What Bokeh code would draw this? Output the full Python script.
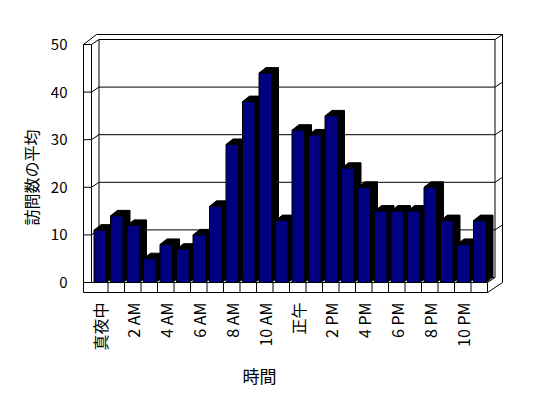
from bokeh.plotting import figure
from bokeh.models import Range1d
from bokeh.core.properties import value
from bokeh.embed import file_html
from bokeh.resources import INLINE
import math

# ---------------- data ----------------
hours = list(range(24))
visits = [11, 14, 12, 5, 8, 7, 10, 16, 29, 38, 44, 13,
          32, 31, 35, 24, 20, 15, 15, 15, 20, 13, 8, 13]
y_ticks = [0, 10, 20, 30, 40, 50]
y_tick_labels = ["0", "10", "20", "30", "40", "50"]
x_tick_pos = [0, 2, 4, 6, 8, 10, 12, 14, 16, 18, 20, 22]
x_tick_labels = ["真夜中", "2 AM", "4 AM", "6 AM", "8 AM", "10 AM",
                 "正午", "2 PM", "4 PM", "6 PM", "8 PM", "10 PM"]
y_title = "訪問数の平均"
x_title = "時間"

# ---------------- layout (screen pixels of the page) ----------------
W, H = 540, 392
OFF = 0
CAT_LEFT = 91.0      # left edge of first category cell (front plane)
CAT_W = 16.5         # px per category
ZERO_Y = 282.0       # screen y of value 0 on the front plane
PXU = 4.76           # px per value unit
DX, DY = 7.5, 5.0    # depth offset of the box
BDX, BDY = 7.0, 5.5  # depth offset of the bars
FONT = "Noto Sans CJK JP"


def u(X):
    return (X - CAT_LEFT) / CAT_W - 0.5


def v(Y):
    return (ZERO_Y - Y) / PXU


p = figure(width=W, height=H, output_backend="svg", toolbar_location=None,
           x_axis_type=None, y_axis_type=None, min_border=0,
           x_range=Range1d(u(OFF), u(OFF + W)),
           y_range=Range1d(v(OFF + H), v(OFF)))
p.grid.visible = False
p.outline_line_color = None
p.background_fill_color = "white"

n = len(hours)
FL = 83.0
IL = CAT_LEFT
FR = CAT_LEFT + n * CAT_W
FB = 292.0
Y50 = ZERO_Y - y_ticks[-1] * PXU

segs = []


def seg(x1, y1, x2, y2):
    segs.append(([u(x1), u(x2)], [v(y1), v(y2)]))


seg(FL, Y50, FL, FB)
seg(FL, FB, FR, FB)
seg(FL, ZERO_Y, FR, ZERO_Y)
seg(FR, ZERO_Y, FR, FB)
for i in range(1, n):
    xb = CAT_LEFT + i * CAT_W
    seg(xb, ZERO_Y, xb, FB)
seg(FR, FB, FR + 2 * DX, FB - 2 * DY)
seg(FR, ZERO_Y, FR + DX, ZERO_Y - DY)
seg(FR + DX, ZERO_Y - DY, FR + DX, Y50 - DY)
seg(FR + 2 * DX, FB - 2 * DY, FR + 2 * DX, Y50 - 2 * DY)
seg(IL + DX, ZERO_Y - DY, IL + DX, Y50 - DY)
seg(IL + DX, ZERO_Y - DY, FR + DX, ZERO_Y - DY)
seg(IL + DX, Y50 - DY, FR + DX, Y50 - DY)
seg(FL + 2 * DX - 2, Y50 - 2 * DY, FR + 2 * DX, Y50 - 2 * DY)
seg(FL, Y50, FL + 2 * DX - 2, Y50 - 2 * DY)
seg(FL, Y50, IL, Y50)
seg(IL, Y50, IL + DX, Y50 - DY)
seg(IL, Y50, IL, ZERO_Y)
seg(FR + DX, Y50 - DY, FR + 2 * DX, Y50 - 2 * DY)
for t in y_ticks[1:-1]:
    Yt = ZERO_Y - t * PXU
    seg(FL, Yt, IL, Yt)
    seg(IL, Yt, IL + DX, Yt - DY)
    seg(IL + DX, Yt - DY, FR + DX, Yt - DY)
    seg(FR + DX, Yt - DY, FR + 2 * DX, Yt - 2 * DY)

p.multi_line(xs=[s[0] for s in segs], ys=[s[1] for s in segs],
             line_color="black", line_width=1)

# ---------------- bars ----------------
L_OFF = -0.5 + 2.5 / CAT_W
R_OFF = -0.5 + 15.0 / CAT_W
du = BDX / CAT_W
dv = BDY / PXU
lefts = [h + L_OFF for h in hours]
rights = [h + R_OFF for h in hours]
hx = []
hy = []
for l, r, val in zip(lefts, rights, visits):
    hx.append([l, l + du, r + du, r + du, r, r])
    hy.append([val, val + dv, val + dv, dv, 0, val])
p.patches(xs=hx, ys=hy, fill_color="black", line_color="black", line_width=1)
p.quad(left=lefts, right=rights, bottom=0, top=visits,
       fill_color="#000080", line_color="black", line_width=1)

# ---------------- texts ----------------
p.text(x=[u(67)] * len(y_ticks), y=y_ticks, text=y_tick_labels,
       text_align="right", text_baseline="middle",
       text_font=value(FONT), text_font_size="15px", text_color="black")
p.text(x=x_tick_pos, y=[v(302)] * len(x_tick_pos), text=x_tick_labels,
       angle=math.pi / 2, text_align="right", text_baseline="middle",
       text_font=value(FONT), text_font_size="16px", text_color="black")
p.text(x=[u(30)], y=[v(177)], text=[y_title], angle=math.pi / 2,
       text_align="center", text_baseline="middle",
       text_font=value(FONT), text_font_size="16px", text_color="black")
p.text(x=[u(259)], y=[v(375)], text=[x_title],
       text_align="center", text_baseline="middle",
       text_font=value(FONT), text_font_size="17px", text_color="black")

open("out.html", "w").write(file_html(p, INLINE))
